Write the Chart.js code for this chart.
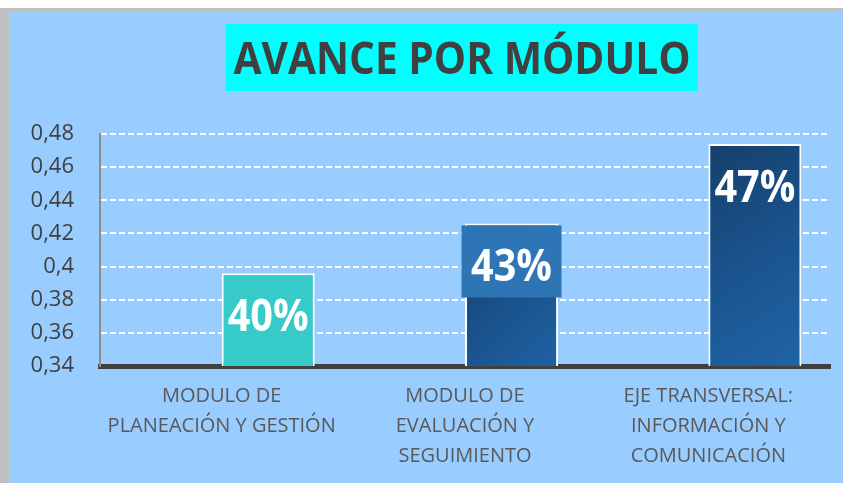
<!DOCTYPE html>
<html>
<head>
<meta charset="utf-8">
<script src="https://cdn.jsdelivr.net/npm/chart.js@4.4.1/dist/chart.umd.min.js"></script>
<style>
  html, body { margin: 0; padding: 0; background: #ffffff; }
  canvas { display: block; }
</style>
</head>
<body>
<canvas id="moduleChart" width="843" height="483"></canvas>
<script>
const chartTitle = "AVANCE POR MÓDULO";
const categories = [
    ["MODULO DE", "PLANEACIÓN Y GESTIÓN"],
    ["MODULO DE", "EVALUACIÓN Y", "SEGUIMIENTO"],
    ["EJE TRANSVERSAL:", "INFORMACIÓN Y", "COMUNICACIÓN"]
];
const progress = [0.396, 0.426, 0.474];
const emptySeries = [null, null, null];
const yTickValues = [0.34, 0.36, 0.38, 0.40, 0.42, 0.44, 0.46, 0.48];
const yTickLabels = ["0,34", "0,36", "0,38", "0,4", "0,42", "0,44", "0,46", "0,48"];

const backdrop = {
    id: "backdrop",
    beforeDraw(chart) {
        const c = chart.ctx;
        c.save();
        c.fillStyle = "#ffffff";
        c.fillRect(0, 0, chart.width, chart.height);
        c.fillStyle = "#bfbfbf";
        c.fillRect(0, 8, chart.width, chart.height - 8);
        c.fillStyle = "#99ccff";
        c.fillRect(9, 11, chart.width - 9, chart.height - 11);
        // title box
        c.fillStyle = "#00ffff";
        c.fillRect(226, 24, 472, 67);
        c.fillStyle = "#404040";
        c.font = "bold 44px 'Open Sans'";
        c.textBaseline = "alphabetic";
        c.textAlign = "center";
        const w = c.measureText(chartTitle).width;
        c.translate(462, 74);
        c.scale(457 / w, 1);
        c.fillText(chartTitle, 0, 0);
        c.restore();
    }
};

const valueLabels = {
    id: "valueLabels",
    afterDatasetsDraw(chart) {
        const c = chart.ctx;
        const meta = chart.getDatasetMeta(1);
        c.save();
        meta.data.forEach((bar, i) => {
            const text = Math.round(progress[i] * 100) + "%";
            if (i === 1) {
                c.fillStyle = "#2e75b6";
                c.fillRect(bar.x - 50, bar.y + 2, 100, 72);
            }
            c.save();
            c.fillStyle = "#ffffff";
            c.font = "bold 44px 'Open Sans'";
            c.textAlign = "center";
            c.textBaseline = "alphabetic";
            c.translate(bar.x, bar.y + 58);
            c.scale(0.9, 1);
            c.fillText(text, 0, 0);
            c.restore();
        });
        c.restore();
    }
};

function barFill(ctx) {
    if (ctx.type !== "data") return "#1f5f9f";
    if (ctx.dataIndex === 0) return "#36cbc9";
    const chart = ctx.chart;
    const xs = chart.scales.x, ys = chart.scales.y;
    if (!xs || !ys || xs.width === 0) return "#1f5f9f";
    const left = xs.getPixelForValue(ctx.dataIndex);
    const top = ys.getPixelForValue(progress[ctx.dataIndex]);
    const bottom = ys.getPixelForValue(yTickValues[0]);
    const g = chart.ctx.createLinearGradient(left, top, left + 140, bottom);
    g.addColorStop(0, "#153f6b");
    g.addColorStop(0.5, "#1b5590");
    g.addColorStop(1, "#2067aa");
    return g;
}

new Chart(document.getElementById("moduleChart"), {
    type: "bar",
    data: {
        labels: categories,
        datasets: [
            {
                label: "",
                data: emptySeries
            },
            {
                label: "Avance",
                data: progress,
                backgroundColor: barFill,
                borderColor: "#ffffff",
                borderWidth: 2,
                borderSkipped: "bottom"
            }
        ]
    },
    options: {
        responsive: false,
        animation: false,
        devicePixelRatio: 1,
        categoryPercentage: 0.765,
        barPercentage: 1,
        layout: { padding: { top: 134, right: 13, left: 0, bottom: 0 } },
        plugins: {
            legend: { display: false },
            tooltip: { enabled: false },
            title: { display: false }
        },
        scales: {
            x: {
                grid: { display: false, drawTicks: false },
                border: { display: true, color: "#404040", width: 5 },
                ticks: {
                    color: "#595959",
                    font: { family: "'Open Sans'", size: 20, lineHeight: 1.5 },
                    padding: 15,
                    maxRotation: 0,
                    autoSkip: false
                },
                afterFit(scale) { scale.height = 117; }
            },
            y: {
                min: 0.34,
                max: 0.48,
                afterBuildTicks(scale) {
                    scale.ticks = yTickValues.map(v => ({ value: v }));
                },
                grid: {
                    color: "#ffffff",
                    lineWidth: 2,
                    drawTicks: false
                },
                border: { display: true, color: "#8c8c8c", width: 2, dash: [6, 3] },
                ticks: {
                    color: "#404040",
                    font: { family: "'Open Sans'", size: 22 },
                    padding: 26,
                    callback: (v, i) => yTickLabels[i]
                },
                afterFit(scale) { scale.width = 100; }
            }
        }
    },
    plugins: [backdrop, valueLabels]
});
</script>
</body>
</html>
